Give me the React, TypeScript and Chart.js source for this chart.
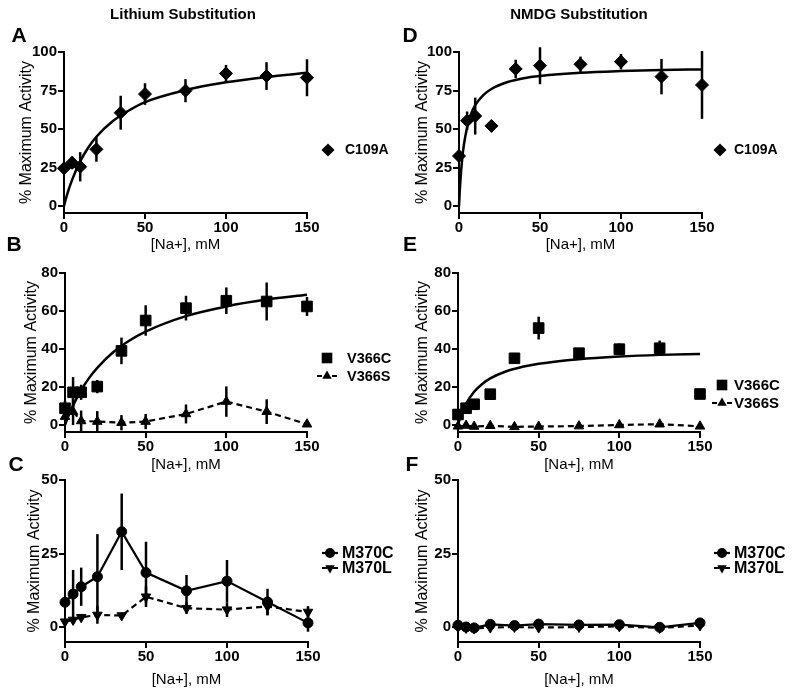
import React, { useEffect, useRef } from "react";
import { Chart, registerables } from "chart.js";

Chart.register(...registerables);

const FONT = "'Liberation Sans', Arial, Helvetica, sans-serif";
const PAGE_W = 800;
const PAGE_H = 693;

// ---------------- data ----------------
const NA_MM = [0, 5, 10, 20, 35, 50, 75, 100, 125, 150];
const X_TICKS = [0, 50, 100, 150];
const Y_TICKS_AD = [0, 25, 50, 75, 100];
const Y_TICKS_BE = [0, 20, 40, 60, 80];
const Y_TICKS_CF = [0, 25, 50];

// Panel A – Lithium, C109A
const A_C109A = [24.5, 28.1, 25.5, 36.8, 60.6, 72.7, 74.9, 86.1, 84.4, 83.3];
const A_C109A_ERR = [1.5, 4, 9.5, 8, 11, 7, 7.5, 5.5, 9, 12];
const A_FIT_X = [0, 2, 5, 10, 15, 20, 30, 40, 50, 75, 100, 125, 150];
const A_FIT_Y = [0, 7.7, 17, 29, 38, 45, 55, 62, 67.5, 75.3, 80.3, 83.8, 86.5];

// Panel D – NMDG, C109A
const D_C109A = [32.5, 55.4, 58.4, 52, 89, 91.1, 92, 93.7, 84, 78.6];
const D_C109A_ERR = [3, 6, 12, 3, 6, 12, 5, 5, 11.5, 22];
const D_FIT_X = [0, 0.5, 1, 2, 3, 5, 7.5, 10, 15, 20, 30, 40, 50, 75, 100, 125, 150];
const D_FIT_Y = [0, 10.3, 18.6, 31, 39.6, 51, 60, 65.5, 72, 76, 80.5, 83, 84.4, 86.5, 87.6, 88.3, 88.7];

// Panel B – Lithium, V366C / V366S
const B_V366C = [8.8, 17.2, 17.2, 20.2, 39, 55, 61.5, 65.4, 65, 62.4];
const B_V366C_ERR = [4, 8, 4, 3.5, 7, 8, 6.5, 7, 10, 5];
const B_V366S = [4.4, 7, 2.1, 1.8, 1.2, 1.8, 5.8, 12.3, 7, 0.4];
const B_V366S_ERR = [2, 7, 5.5, 5.5, 4, 4, 5, 8, 6.5, 1.5];
const B_FIT_X = [0, 2, 5, 10, 15, 20, 30, 40, 50, 75, 100, 125, 150];
const B_FIT_Y = [0, 4.4, 10.2, 18.3, 24.8, 30.1, 38.4, 44.5, 49.2, 57.3, 62.4, 66, 68.5];

// Panel E – NMDG, V366C / V366S
const E_V366C = [5.5, 8.8, 10.9, 16.2, 35.1, 51, 37.8, 39.9, 40.4, 16.3];
const E_V366C_ERR = [1, 1, 1, 1, 1, 6, 2.5, 3, 4, 1];
const E_V366S = [-0.7, -0.3, -0.8, -0.4, -1, -0.8, -0.6, 0, 0.4, -0.7];
const E_V366S_ERR = [0.5, 0.5, 0.5, 0.5, 0.5, 0.5, 0.5, 0.5, 0.5, 0.5];
const E_FIT_X = [0, 1, 2, 5, 10, 15, 20, 30, 40, 50, 75, 100, 125, 150];
const E_FIT_Y = [0, 2.9, 5.4, 11.2, 17.5, 21.6, 24.5, 28.3, 30.6, 32.2, 34.6, 36, 36.9, 37.4];

// Panel C – Lithium, M370C / M370L
const C_M370C = [8.4, 11.2, 13.7, 17.1, 32.4, 18.5, 12.3, 15.6, 8.5, 1.4];
const C_M370C_ERR = [1, 8.2, 6.5, 14.5, 13, 10.5, 5.4, 7.2, 4.5, 3];
const C_M370L = [1.8, 2.4, 3.3, 4.1, 3.9, 10.3, 6.4, 5.9, 7, 5.1];
const C_M370L_ERR = [1, 1, 1, 3, 1, 3.5, 2, 2.5, 3, 2];

// Panel F – NMDG, M370C / M370L
const F_M370C = [0.6, 0, -0.3, 0.9, 0.5, 1, 0.7, 0.8, -0.1, 1.4];
const F_M370C_ERR = [0.6, 0.5, 0.5, 0.6, 0.5, 0.6, 0.5, 0.6, 0.5, 0.6];
const F_M370L = [0, -0.3, -0.5, -0.2, 0, -0.2, 0, 0.2, -0.3, 0.5];
const F_M370L_ERR = [0.8, 0.8, 0.8, 1, 0.8, 1, 1, 0.8, 0.8, 1];

// ---------------- helpers ----------------
type Line = "none" | "solid" | "dashed";
type Series =
  | { kind: "fit"; xs: number[]; ys: number[] }
  | {
      kind: "points";
      label: string;
      ys: number[];
      errs: number[];
      style: string;
      rotation?: number;
      radius: number;
      line: Line;
    };

type Geo = { L: number; T: number; R: number; B: number; xTitleY: number; yTitleX: number };

type PanelSpec = {
  geo: Geo;
  yMin: number;
  yMax: number;
  yTicks: number[];
  series: Series[];
  texts: { text: string; x: number; y: number; size: number; bold: boolean }[];
  legend: { markerX: number; textX: number; ys: number[]; size: number; halfLine: number };
};

const pts = (xs: number[], ys: number[]) => xs.map((x, i) => ({ x, y: ys[i] }));

function drawMarker(ctx: CanvasRenderingContext2D, style: string, rot: number, x: number, y: number, r: number) {
  ctx.beginPath();
  if (style === "rectRot") {
    ctx.moveTo(x, y - r);
    ctx.lineTo(x + r, y);
    ctx.lineTo(x, y + r);
    ctx.lineTo(x - r, y);
  } else if (style === "rect") {
    const h = r * Math.SQRT1_2;
    ctx.rect(x - h, y - h, 2 * h, 2 * h);
  } else if (style === "triangle") {
    const s = rot === 180 ? -1 : 1;
    ctx.moveTo(x, y - s * r);
    ctx.lineTo(x + 0.866 * r, y + s * 0.5 * r);
    ctx.lineTo(x - 0.866 * r, y + s * 0.5 * r);
  } else {
    ctx.arc(x, y, r, 0, Math.PI * 2);
  }
  ctx.closePath();
  ctx.fill();
}

const errorBarPlugin = {
  id: "errorBars",
  beforeDatasetsDraw(chart: any) {
    const ctx: CanvasRenderingContext2D = chart.ctx;
    const ys = chart.scales.y;
    ctx.save();
    ctx.strokeStyle = "#000";
    ctx.lineWidth = 2.5;
    chart.data.datasets.forEach((ds: any, i: number) => {
      const errs: number[] | undefined = ds.errorBars;
      if (!errs) return;
      const meta = chart.getDatasetMeta(i);
      meta.data.forEach((el: any, j: number) => {
        const v = ds.data[j].y;
        const e = errs[j];
        if (!e) return;
        ctx.beginPath();
        ctx.moveTo(el.x, ys.getPixelForValue(v + e));
        ctx.lineTo(el.x, ys.getPixelForValue(v - e));
        ctx.stroke();
      });
    });
    ctx.restore();
  },
};

const textPlugin = {
  id: "panelText",
  afterDraw(chart: any, _args: any, opts: any) {
    const ctx: CanvasRenderingContext2D = chart.ctx;
    ctx.save();
    ctx.fillStyle = "#000";
    ctx.strokeStyle = "#000";
    ctx.textBaseline = "middle";
    for (const t of opts.texts || []) {
      ctx.font = `${t.bold ? "bold " : ""}${t.size}px ${FONT}`;
      ctx.textAlign = "center";
      ctx.fillText(t.text, t.x, t.y);
    }
    const lg = opts.legend;
    const items = (opts.items || []) as any[];
    items.forEach((it, i) => {
      const y = lg.ys[i];
      const mx = lg.markerX;
      ctx.lineWidth = 2.2;
      if (it.line === "solid") {
        ctx.beginPath();
        ctx.moveTo(mx - lg.halfLine, y);
        ctx.lineTo(mx + lg.halfLine, y);
        ctx.stroke();
      } else if (it.line === "dashed") {
        ctx.beginPath();
        ctx.moveTo(mx - lg.halfLine, y);
        ctx.lineTo(mx - lg.halfLine + 5, y);
        ctx.moveTo(mx + lg.halfLine - 5, y);
        ctx.lineTo(mx + lg.halfLine, y);
        ctx.stroke();
      }
      drawMarker(ctx, it.style, it.rotation || 0, mx, y, it.radius);
      ctx.font = `bold ${lg.size}px ${FONT}`;
      ctx.textAlign = "left";
      ctx.fillText(it.label, lg.textX, y + 0.5);
    });
    ctx.restore();
  },
};

const YW = 50;

function buildConfig(spec: PanelSpec): any {
  const g = spec.geo;
  const xBoxBottom = g.xTitleY + 9;
  const datasets = spec.series.map((s) =>
    s.kind === "fit"
      ? {
          data: pts(s.xs, s.ys),
          showLine: true,
          borderColor: "#000",
          borderWidth: 2.5,
          pointRadius: 0,
          pointHoverRadius: 0,
          cubicInterpolationMode: "monotone",
          fill: false,
          clip: false,
        }
      : {
          label: s.label,
          data: pts(NA_MM, s.ys),
          errorBars: s.errs,
          showLine: s.line !== "none",
          borderColor: "#000",
          borderWidth: 2.2,
          borderDash: s.line === "dashed" ? [6, 4] : [],
          pointStyle: s.style,
          pointRotation: s.rotation || 0,
          pointRadius: s.radius,
          pointHoverRadius: s.radius,
          pointBackgroundColor: "#000",
          pointBorderColor: "#000",
          pointBorderWidth: 1,
          tension: 0,
          clip: false,
        }
  );
  const items = spec.series.filter((s) => s.kind === "points");
  const tickFont = { family: FONT, size: 15, weight: "bold" as const };
  const grid = {
    display: true,
    drawOnChartArea: false,
    drawTicks: true,
    tickLength: 6,
    color: "#000",
    lineWidth: 2,
  };
  const border = { display: true, color: "#000", width: 2 };
  return {
    type: "scatter",
    data: { datasets },
    options: {
      responsive: false,
      animation: false,
      devicePixelRatio: 1,
      events: [],
      layout: {
        padding: {
          left: g.L - YW,
          top: g.T,
          right: PAGE_W - g.R,
          bottom: PAGE_H - xBoxBottom,
        },
      },
      plugins: {
        legend: { display: false },
        tooltip: { enabled: false },
        panelText: { texts: spec.texts, legend: spec.legend, items },
      },
      scales: {
        x: {
          type: "linear",
          min: 0,
          max: 150,
          afterBuildTicks: (s: any) => {
            s.ticks = X_TICKS.map((v) => ({ value: v }));
          },
          afterFit: (s: any) => {
            s.height = xBoxBottom - g.B;
          },
          grid,
          border,
          ticks: { color: "#000", padding: 0, font: tickFont, callback: (v: any) => String(v) },
          title: {
            display: true,
            text: "[Na+], mM",
            color: "#000",
            font: { family: FONT, size: 15 },
            padding: 0,
          },
        },
        y: {
          type: "linear",
          min: spec.yMin,
          max: spec.yMax,
          afterBuildTicks: (s: any) => {
            s.ticks = spec.yTicks.map((v) => ({ value: v }));
          },
          afterFit: (s: any) => {
            s.width = YW;
          },
          grid,
          border,
          ticks: { color: "#000", padding: 1, font: tickFont, callback: (v: any) => String(v) },
          title: {
            display: true,
            text: "% Maximum Activity",
            color: "#000",
            font: { family: FONT, size: 16 },
            padding: { top: g.yTitleX - (g.L - YW) - 9.6, bottom: 0 },
          },
        },
      },
    },
    plugins: [errorBarPlugin, textPlugin],
  };
}

// ---------------- panels ----------------
const PANELS: PanelSpec[] = [
  {
    geo: { L: 64, T: 52, R: 307, B: 213, xTitleY: 245, yTitleX: 27 },
    yMin: -4.5,
    yMax: 100,
    yTicks: Y_TICKS_AD,
    series: [
      { kind: "fit", xs: A_FIT_X, ys: A_FIT_Y },
      { kind: "points", label: "C109A", ys: A_C109A, errs: A_C109A_ERR, style: "rectRot", radius: 6.5, line: "none" },
    ],
    texts: [
      { text: "Lithium Substitution", x: 183, y: 15, size: 15, bold: true },
      { text: "A", x: 19, y: 36, size: 21, bold: true },
    ],
    legend: { markerX: 328, textX: 345, ys: [150], size: 14, halfLine: 8 },
  },
  {
    geo: { L: 459, T: 52, R: 702, B: 213, xTitleY: 245, yTitleX: 423 },
    yMin: -4.5,
    yMax: 100,
    yTicks: Y_TICKS_AD,
    series: [
      { kind: "fit", xs: D_FIT_X, ys: D_FIT_Y },
      { kind: "points", label: "C109A", ys: D_C109A, errs: D_C109A_ERR, style: "rectRot", radius: 6.5, line: "none" },
    ],
    texts: [
      { text: "NMDG Substitution", x: 579, y: 15, size: 15, bold: true },
      { text: "D", x: 410, y: 36, size: 21, bold: true },
    ],
    legend: { markerX: 720, textX: 734, ys: [150], size: 14, halfLine: 8 },
  },
  {
    geo: { L: 65, T: 273, R: 307, B: 432, xTitleY: 465, yTitleX: 32 },
    yMin: -3.7,
    yMax: 80,
    yTicks: Y_TICKS_BE,
    series: [
      { kind: "fit", xs: B_FIT_X, ys: B_FIT_Y },
      { kind: "points", label: "V366C", ys: B_V366C, errs: B_V366C_ERR, style: "rect", radius: 7.5, line: "none" },
      { kind: "points", label: "V366S", ys: B_V366S, errs: B_V366S_ERR, style: "triangle", radius: 5.5, line: "dashed" },
    ],
    texts: [{ text: "B", x: 14, y: 245, size: 21, bold: true }],
    legend: { markerX: 327, textX: 347, ys: [358, 376], size: 14.5, halfLine: 10 },
  },
  {
    geo: { L: 458, T: 273, R: 700, B: 432, xTitleY: 465, yTitleX: 423 },
    yMin: -3.7,
    yMax: 80,
    yTicks: Y_TICKS_BE,
    series: [
      { kind: "fit", xs: E_FIT_X, ys: E_FIT_Y },
      { kind: "points", label: "V366C", ys: E_V366C, errs: E_V366C_ERR, style: "rect", radius: 7.5, line: "none" },
      { kind: "points", label: "V366S", ys: E_V366S, errs: E_V366S_ERR, style: "triangle", radius: 5.5, line: "dashed" },
    ],
    texts: [{ text: "E", x: 410, y: 245, size: 21, bold: true }],
    legend: { markerX: 722, textX: 734, ys: [385, 403], size: 15, halfLine: 10 },
  },
  {
    geo: { L: 65, T: 480, R: 308, B: 642, xTitleY: 680, yTitleX: 35 },
    yMin: -5.1,
    yMax: 50,
    yTicks: Y_TICKS_CF,
    series: [
      { kind: "points", label: "M370C", ys: C_M370C, errs: C_M370C_ERR, style: "circle", radius: 5, line: "solid" },
      { kind: "points", label: "M370L", ys: C_M370L, errs: C_M370L_ERR, style: "triangle", rotation: 180, radius: 5.5, line: "dashed" },
    ],
    texts: [{ text: "C", x: 16, y: 465, size: 21, bold: true }],
    legend: { markerX: 330, textX: 342, ys: [553, 568], size: 16, halfLine: 8 },
  },
  {
    geo: { L: 458, T: 480, R: 700, B: 642, xTitleY: 680, yTitleX: 423 },
    yMin: -5.1,
    yMax: 50,
    yTicks: Y_TICKS_CF,
    series: [
      { kind: "points", label: "M370C", ys: F_M370C, errs: F_M370C_ERR, style: "circle", radius: 5, line: "solid" },
      { kind: "points", label: "M370L", ys: F_M370L, errs: F_M370L_ERR, style: "triangle", rotation: 180, radius: 5.5, line: "dashed" },
    ],
    texts: [{ text: "F", x: 412, y: 465, size: 21, bold: true }],
    legend: { markerX: 722, textX: 734, ys: [553, 568], size: 16, halfLine: 8 },
  },
];

function Panel({ spec }: { spec: PanelSpec }) {
  const ref = useRef<HTMLCanvasElement | null>(null);
  useEffect(() => {
    if (!ref.current) return;
    const chart = new Chart(ref.current, buildConfig(spec));
    return () => chart.destroy();
  }, [spec]);
  return (
    <canvas
      ref={ref}
      width={PAGE_W}
      height={PAGE_H}
      style={{ position: "absolute", left: 0, top: 0, width: PAGE_W, height: PAGE_H }}
    />
  );
}

export default function App() {
  return (
    <div
      style={{
        position: "absolute",
        left: 0,
        top: 0,
        width: PAGE_W,
        height: PAGE_H,
        background: "#fff",
        overflow: "hidden",
      }}
    >
      {PANELS.map((p, i) => (
        <Panel key={i} spec={p} />
      ))}
    </div>
  );
}
